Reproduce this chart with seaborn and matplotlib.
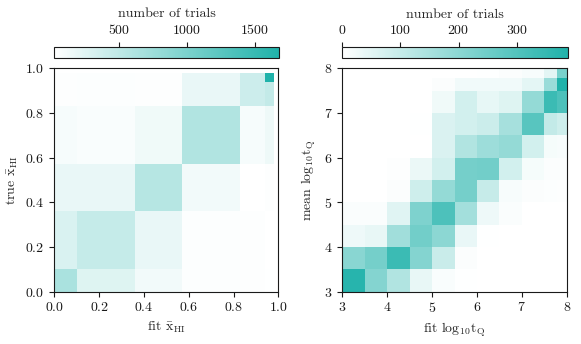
import numpy as np
import matplotlib.pyplot as plt
import seaborn as sns
from matplotlib.colors import LinearSegmentedColormap

# ---- data ----
# left panel: uneven bins in xHI (same edges on both axes)
xhi_edges = [0.0, 0.1, 0.36, 0.57, 0.83, 0.94, 0.98]
# rows = true xHI bins (bottom -> top), columns = fit xHI bins
xhi_counts = [
    [650, 270, 120, 50, 35, 30],
    [300, 450, 185, 50, 35, 25],
    [185, 185, 570, 120, 20, 35],
    [85, 70, 135, 600, 85, 150],
    [35, 45, 35, 185, 400, 470],
    [35, 45, 35, 185, 400, 1680],
]

# right panel: log10 tQ bins
tq_edges = [3.0, 3.5, 4.0, 4.5, 5.0, 5.5, 6.0, 6.5, 7.0, 7.5, 7.78, 8.0]
# rows = mean log10 tQ bins (bottom -> top), columns = fit log10 tQ bins
tq_counts = [
    [375, 215, 135, 40, 12, 2, 1, 0, 0, 0, 0],
    [205, 240, 340, 215, 95, 8, 1, 0, 0, 0, 0],
    [30, 40, 165, 245, 200, 38, 3, 0, 0, 0, 0],
    [10, 10, 55, 225, 310, 160, 30, 10, 0, 0, 0],
    [0, 0, 8, 85, 185, 240, 100, 15, 8, 5, 4],
    [0, 0, 4, 35, 78, 240, 245, 78, 18, 8, 8],
    [0, 0, 0, 1, 65, 135, 170, 185, 78, 18, 15],
    [0, 0, 0, 2, 65, 78, 90, 155, 290, 105, 85],
    [0, 0, 0, 0, 27, 78, 43, 58, 185, 340, 310],
    [0, 0, 0, 0, 8, 25, 25, 25, 48, 175, 388],
    [0, 0, 0, 0, 0, 0, 2, 8, 15, 50, 232],
]

sns.set_style("ticks")
plt.rcParams["font.family"] = "cmr10"
plt.rcParams["mathtext.fontset"] = "cm"
plt.rcParams["axes.formatter.use_mathtext"] = True
plt.rcParams["axes.unicode_minus"] = False
plt.rcParams["font.size"] = 10
plt.rcParams["axes.labelsize"] = 10
plt.rcParams["xtick.labelsize"] = 10
plt.rcParams["ytick.labelsize"] = 10
plt.rcParams["axes.edgecolor"] = "0.1"
plt.rcParams["xtick.color"] = "0.1"
plt.rcParams["ytick.color"] = "0.1"
plt.rcParams["xtick.major.size"] = 3.5
plt.rcParams["ytick.major.size"] = 3.5

cmap = LinearSegmentedColormap.from_list("teal", ["white", "lightseagreen"])


def centers(edges):
    e = np.asarray(edges)
    return (e[:-1] + e[1:]) / 2


def hist_panel(ax, cax, edges, counts):
    counts = np.asarray(counts, dtype=float)
    xc, yc = np.meshgrid(centers(edges), centers(edges))
    sns.histplot(x=xc.ravel(), y=yc.ravel(), weights=counts.ravel(),
                 bins=[edges, edges], cmap=cmap, vmin=counts.min(),
                 cbar=True, cbar_ax=cax,
                 cbar_kws=dict(orientation="horizontal", ticklocation="top"),
                 ax=ax)
    cax.set_xlabel("number of trials")
    cax.xaxis.set_label_position("top")


fig = plt.figure(figsize=(5.81, 3.44), dpi=100)
ax1 = fig.add_axes([0.0935, 0.152, 0.3855, 0.6494])
cax1 = fig.add_axes([0.0935, 0.8305, 0.3867, 0.0337])
ax2 = fig.add_axes([0.5892, 0.152, 0.3862, 0.6494])
cax2 = fig.add_axes([0.5892, 0.8305, 0.3880, 0.0337])

hist_panel(ax1, cax1, xhi_edges, xhi_counts)
ax1.set_xlim(0, 1)
ax1.set_ylim(0, 1)
ax1.set_xlabel(r"fit $\mathrm{\bar{x}_{HI}}$")
ax1.set_ylabel(r"true $\mathrm{\bar{x}_{HI}}$")

hist_panel(ax2, cax2, tq_edges, tq_counts)
ax2.set_xlim(3, 8)
ax2.set_ylim(3, 8)
ax2.set_xticks(range(3, 9))
ax2.set_yticks(range(3, 9))
ax2.set_xlabel(r"fit $\mathrm{log_{10}t_Q}$")
ax2.set_ylabel(r"mean $\mathrm{log_{10}t_Q}$")

for ax in (ax1, ax2):
    for s in ax.spines.values():
        s.set_visible(True)

fig.savefig("out.png", dpi=100)
